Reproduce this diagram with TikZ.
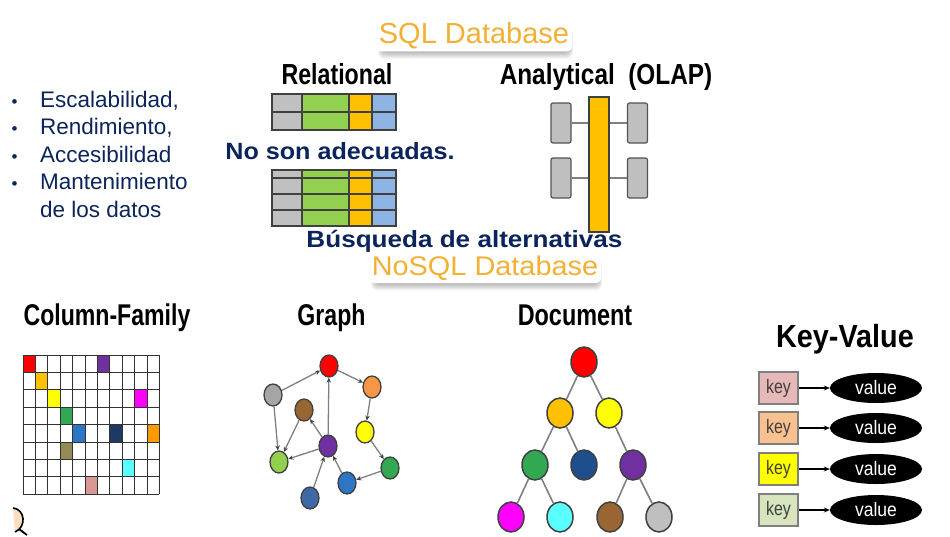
\documentclass[tikz,border=0pt]{standalone}
\usepackage{fontspec}
\setmainfont{Liberation Sans}
\usepackage{graphicx}
\usetikzlibrary{arrows.meta,shapes.geometric}

\definecolor{navy}{RGB}{12,36,92}
\definecolor{banner}{RGB}{242,176,52}
\definecolor{relgray}{RGB}{192,192,192}
\definecolor{relgreen}{RGB}{146,208,80}
\definecolor{relorange}{RGB}{255,192,0}
\definecolor{relblue}{RGB}{141,180,226}
\definecolor{tableline}{RGB}{64,64,64}
\definecolor{olapbox}{RGB}{191,191,191}
\definecolor{nodeline}{RGB}{64,64,64}
\definecolor{edgegray}{RGB}{128,128,128}
\definecolor{keyborder}{RGB}{127,127,127}
\definecolor{keytext}{RGB}{64,64,64}
% palette for cells and vertices
\definecolor{cRed}{RGB}{255,0,0}
\definecolor{cPurple}{RGB}{112,48,160}
\definecolor{cGold}{RGB}{255,192,0}
\definecolor{cYellow}{RGB}{255,255,0}
\definecolor{cMagenta}{RGB}{255,0,255}
\definecolor{cGreen}{RGB}{51,168,82}
\definecolor{cBlue}{RGB}{46,117,198}
\definecolor{cNavy}{RGB}{31,56,100}
\definecolor{cOrange}{RGB}{255,153,0}
\definecolor{cOlive}{RGB}{148,138,84}
\definecolor{cCyan}{RGB}{90,255,255}
\definecolor{cPink}{RGB}{218,150,148}
\definecolor{cGray}{RGB}{166,166,166}
\definecolor{cLightGray}{RGB}{191,191,191}
\definecolor{cSoftOrange}{RGB}{247,150,70}
\definecolor{cBrown}{RGB}{153,102,51}
\definecolor{cLime}{RGB}{146,208,80}
\definecolor{cSteel}{RGB}{61,106,165}
\definecolor{cDeepBlue}{RGB}{31,78,140}
\definecolor{kPink}{RGB}{230,184,183}
\definecolor{kOrange}{RGB}{250,192,144}
\definecolor{kYellow}{RGB}{255,255,0}
\definecolor{kGreen}{RGB}{215,228,189}

\newcommand\pxfont[1]{\fontsize{#1}{#1}\selectfont}
\newcommand\narrow[2]{\scalebox{#1}[1]{#2}}

\pgfdeclarelayer{behind}
\pgfsetlayers{behind,main}

\begin{document}
\begin{tikzpicture}[x=1pt,y=-1pt,
  banner/.style={anchor=base,inner sep=3pt,rounded corners=6pt,fill=white,
    text=banner,font=\pxfont{29}},
  softshade/.style={fill=black,opacity=0.045,rounded corners=6pt},
  header/.style={anchor=base,inner sep=0pt,text=black,font=\bfseries\pxfont{30}},
  bodytext/.style={anchor=base west,inner sep=0pt,text=navy,font=\pxfont{22.5}},
  bulletmark/.style={anchor=base,inner sep=0pt,text=navy,font=\pxfont{17}},
  boldnavy/.style={anchor=base,inner sep=0pt,text=navy,font=\bfseries\pxfont{23.5}},
  tableline/.style={draw=tableline,line width=1.2pt},
  olapbar/.style={draw=tableline,line width=1.2pt,fill=relorange,minimum width=20pt,minimum height=135pt,inner sep=0pt},
  olapcell/.style={draw=tableline!90,line width=1.2pt,fill=olapbox,rounded corners=2pt,minimum width=20pt,minimum height=40pt,inner sep=0pt},
  olaplink/.style={draw=edgegray,line width=1.3pt},
  gridline/.style={draw=black!80,line width=0.9pt},
  gnode/.style={ellipse,draw=nodeline,line width=1.3pt,minimum width=18pt,minimum height=22pt,inner sep=0pt},
  gedge/.style={draw=edgegray,line width=1.3pt,-{Stealth[length=5pt,width=4.5pt,color=nodeline]}},
  dnode/.style={ellipse,draw=nodeline,line width=1.5pt,minimum width=26pt,minimum height=30pt,inner sep=0pt},
  dedge/.style={draw=edgegray,line width=1.6pt},
  keybox/.style={draw=keyborder,line width=1.8pt,minimum width=39pt,minimum height=32pt,inner sep=0pt,text=keytext,font=\pxfont{19.5}},
  valnode/.style={ellipse,fill=black,minimum width=92pt,minimum height=30pt,inner sep=0pt,text=white,font=\pxfont{19.5}},
  kvarrow/.style={line width=1.3pt,-{Stealth[length=6pt,width=5pt]}}
]
\useasboundingbox (0,0) rectangle (950,536);

% ---------- SQL side ----------
\node[banner] (sqltitle) at (474,43) {SQL Database};
\node[header,font=\bfseries\pxfont{29}] (relhead) at (337,84) {\narrow{0.8}{Relational}};
\node[header,font=\bfseries\pxfont{29}] (olaphead) at (606,84) {\narrow{0.84}{Analytical\ \ (OLAP)}};

% relational tables
\foreach \xa/\xb/\c in {272/302/relgray,302/349/relgreen,349/372/relorange,372/396/relblue}{
  \fill[\c] (\xa,94) rectangle (\xb,130);
  \fill[\c] (\xa,170) rectangle (\xb,226);
}
\draw[tableline] (272,94) rectangle (396,130);
\draw[tableline] (272,112) -- (396,112);
\draw[tableline] (272,170) rectangle (396,226);
\foreach \yy in {178,194,210} \draw[tableline] (272,\yy) -- (396,\yy);
\foreach \xx in {302,349,372}{
  \draw[tableline] (\xx,94) -- (\xx,130);
  \draw[tableline] (\xx,170) -- (\xx,226);
}

% OLAP star
\node[olapbar] (bar) at (599,164.5) {};
\node[olapcell] (l1) at (561,123) {};
\node[olapcell] (l2) at (561,178) {};
\node[olapcell] (r1) at (637.5,123) {};
\node[olapcell] (r2) at (637.5,178) {};
\foreach \b in {l1,l2} \draw[olaplink] (\b.east) -- (bar.west |- \b.east);
\foreach \b in {r1,r2} \draw[olaplink] (\b.west) -- (bar.east |- \b.west);

% bullet list
\node[bulletmark] (mark1) at (14.5,107) {•};
\node[bulletmark] (mark2) at (14.5,134.5) {•};
\node[bulletmark] (mark3) at (14.5,162) {•};
\node[bulletmark] (mark4) at (14.5,189.5) {•};
\node[bodytext] (item1) at (40,107) {Escalabilidad,};
\node[bodytext] (item2) at (40,134.5) {Rendimiento,};
\node[bodytext] (item3) at (40,162) {Accesibilidad};
\node[bodytext] (item4) at (40,189.5) {Mantenimiento};
\node[bodytext] (item5) at (40,217) {de los datos};

\node[boldnavy] (nofit) at (340,159) {\narrow{1.07}{No son adecuadas.}};
\node[boldnavy] (search) at (464.5,247) {\narrow{1.11}{Búsqueda de alternativas}};

% ---------- NoSQL side ----------
\node[banner,font=\pxfont{27}] (nosqltitle) at (485,275) {\narrow{1.07}{NoSQL Database}};

% soft shadows, mostly below the banners
\begin{pgfonlayer}{behind}
  \foreach \t in {sqltitle,nosqltitle}
    \foreach \k in {0,1,...,6}
      \fill[softshade] ([shift={(6-0.6*\k,10)}]\t.north west) rectangle ([shift={(-3+0.6*\k,1+\k)}]\t.south east);
\end{pgfonlayer}

\node[header] (colhead) at (107,325) {\narrow{0.77}{Column-Family}};
\node[header] (graphhead) at (331.5,325) {\narrow{0.77}{Graph}};
\node[header] (dochead) at (575,325) {\narrow{0.78}{Document}};
\node[header,font=\bfseries\pxfont{32}] (kvhead) at (845,347) {\narrow{0.9}{Key-Value}};

% column-family grid: 11 columns x 8 rows
\foreach \r/\c/\col in {0/0/cRed,0/6/cPurple,1/1/cGold,2/2/cYellow,2/9/cMagenta,3/3/cGreen,
    4/4/cBlue,4/7/cNavy,4/10/cOrange,5/3/cOlive,6/8/cCyan,7/5/cPink}
  \fill[\col] ({23+\c*12.4},{355+\r*17.4}) rectangle ++(12.4,17.4);
\foreach \i in {0,...,11} \draw[gridline] ({23+\i*12.4},355) -- ++(0,139.2);
\foreach \j in {0,...,8} \draw[gridline] (23,{355+\j*17.4}) -- ++(136.4,0);

% graph
\node[gnode,fill=cRed]        (gred)    at (329,366) {};
\node[gnode,fill=cGray]       (ggray)   at (273,395) {};
\node[gnode,fill=cSoftOrange] (gorange) at (372,387) {};
\node[gnode,fill=cBrown]      (gbrown)  at (304,410) {};
\node[gnode,fill=cYellow]     (gyellow) at (365,432) {};
\node[gnode,fill=cPurple]     (gpurple) at (328,446) {};
\node[gnode,fill=cLime]       (glime)   at (279,462) {};
\node[gnode,fill=cGreen]      (ggreen)  at (390,468) {};
\node[gnode,fill=cBlue]       (gblue)   at (347,483) {};
\node[gnode,fill=cSteel]      (gsteel)  at (310,498) {};
\draw[gedge] (ggray) -- (gred);
\draw[gedge] (gred) -- (gorange);
\draw[gedge] (gorange) -- (gyellow);
\draw[gedge] (gyellow) -- (ggreen);
\draw[gedge] (ggreen) -- (gblue);
\draw[gedge] (gblue) -- (gpurple);
\draw[gedge] (gsteel) -- (gpurple);
\draw[gedge] (gpurple) -- (gred);
\draw[gedge] (gpurple) -- (gbrown);
\draw[gedge] (gpurple) -- (glime);
\draw[gedge] (gbrown) -- (glime);
\draw[gedge] (ggray) -- (glime);

% document tree
\node[dnode,fill=cRed]       (dred)    at (584,362) {};
\node[dnode,fill=cGold]      (dgold)   at (560,413) {};
\node[dnode,fill=cYellow]    (dyellow) at (609,413) {};
\node[dnode,fill=cGreen]     (dgreen)  at (535,465) {};
\node[dnode,fill=cDeepBlue]  (dblue)   at (584,465) {};
\node[dnode,fill=cPurple]    (dpurple) at (633,465) {};
\node[dnode,fill=cMagenta]   (dmag)    at (511,517) {};
\node[dnode,fill=cCyan]      (dcyan)   at (560,517) {};
\node[dnode,fill=cBrown]     (dbrown)  at (610,517) {};
\node[dnode,fill=cLightGray] (dgray)   at (659,517) {};
\foreach \a/\b in {dred/dgold,dred/dyellow,dgold/dgreen,dgold/dblue,dyellow/dpurple,
    dgreen/dmag,dgreen/dcyan,dpurple/dbrown,dpurple/dgray}
  \draw[dedge] (\a) -- (\b);

% key-value pairs
\foreach \yy/\col [count=\i] in {388/kPink,428/kOrange,469/kYellow,510/kGreen}{
  \node[keybox,fill=\col] (key\i) at (778.5,\yy) {\narrow{0.82}{key}};
  \node[valnode] (val\i) at (876,\yy) {\narrow{0.9}{value}};
  \draw[kvarrow] (key\i) -- (val\i);
}

% magnifier fragment at the lower left edge
\filldraw[fill=orange!25!white,draw=black,line width=1.6pt]
  (13,508) .. controls (25,509) and (27,527) .. (15,532);
\draw[black,line width=1.8pt] (19,529) -- (27,535);
\end{tikzpicture}
\end{document}
